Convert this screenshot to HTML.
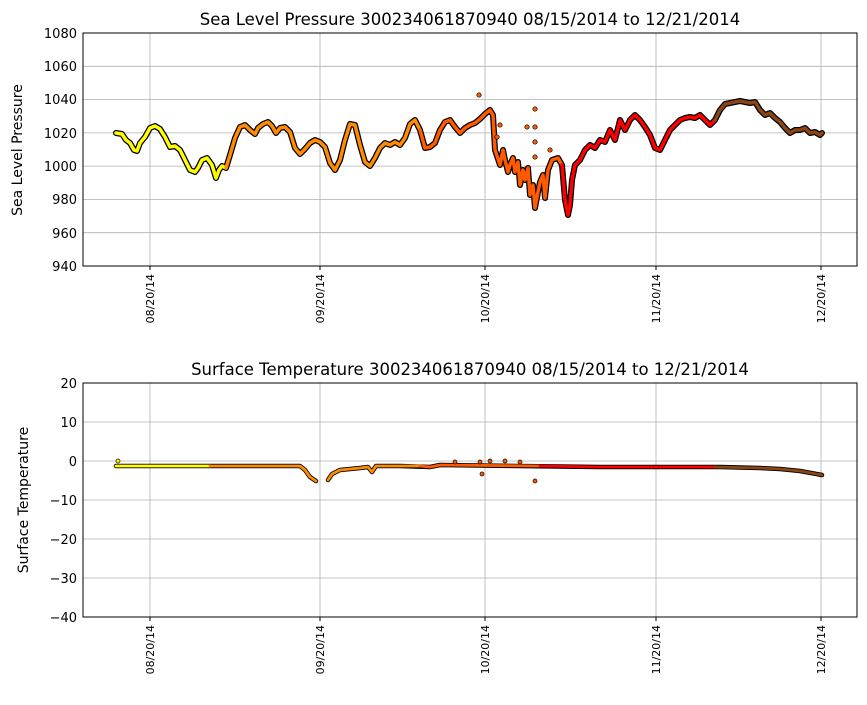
<!DOCTYPE html>
<html><head><meta charset="utf-8"><style>
body{margin:0;background:#fff;}
svg text{font-family:"DejaVu Sans","Liberation Sans",sans-serif;fill:#000;}
</style></head><body>
<svg width="867" height="700" xmlns="http://www.w3.org/2000/svg">
<rect width="867" height="700" fill="#fff"/>
<!-- TOP -->
<g stroke="#b0b0b0" stroke-width="0.8">
<line x1="150" y1="33" x2="150" y2="266"/><line x1="320" y1="33" x2="320" y2="266"/><line x1="485" y1="33" x2="485" y2="266"/><line x1="656" y1="33" x2="656" y2="266"/><line x1="821" y1="33" x2="821" y2="266"/>
<line x1="83" y1="66.3" x2="857" y2="66.3"/><line x1="83" y1="99.6" x2="857" y2="99.6"/><line x1="83" y1="132.9" x2="857" y2="132.9"/><line x1="83" y1="166.1" x2="857" y2="166.1"/><line x1="83" y1="199.4" x2="857" y2="199.4"/><line x1="83" y1="232.7" x2="857" y2="232.7"/>
</g>
<g fill="none" stroke-linejoin="round" stroke-linecap="round">
<polyline stroke="#000" stroke-width="6" points="116,133 122,134 126,140 130,143 134,150 137,151 140,143 145,137 150,128 155,126 160,129 165,137 170,147 175,146 180,150 185,160 190,170 195,172 198,168 202,160 207,158 212,165 216,178 219,170 222,166 226,168 230,155 235,138 240,127 245,125 250,130 255,134 258,128 263,124 268,122 272,126 276,133 280,128 285,127 290,132 295,148 300,154 305,149 310,143 315,140 320,142 325,147 330,163 335,170 340,160 345,140 350,124 355,125 360,145 365,162 370,166 375,158 380,148 385,143 390,145 395,142 400,145 405,138 410,124 415,120 420,130 425,148 430,147 435,143 440,130 445,122 450,120 455,127 460,133 465,128 470,125 475,123 480,119 485,114 490,110 493,115 495,150 500,165 503,150 505,160 508,172 510,165 513,158 515,172 518,162 520,185 523,170 525,180 528,168 530,195 533,185 535,208 538,192 540,182 543,175 545,198 548,170 552,160 558,158 562,165 565,200 568,215 570,205 572,180 575,165 580,160 585,150 590,145 595,148 600,140 605,142 610,130 615,140 620,120 625,130 630,120 635,115 640,120 645,127 650,135 655,148 660,150 665,140 670,130 675,125 680,120 685,118 690,117 695,118 700,115 705,120 710,125 715,120 720,110 725,104 730,103 735,102 740,101 745,102 750,103 755,102 760,110 765,115 770,113 775,118 780,122 785,128 790,133 795,130 800,130 805,128 810,133 815,132 820,135 822,133"/>
<polyline stroke="#ffff00" stroke-width="3.5" points="116,133 122,134 126,140 130,143 134,150 137,151 140,143 145,137 150,128 155,126 160,129 165,137 170,147 175,146 180,150 185,160 190,170 195,172 198,168 202,160 207,158 212,165 216,178 219,170 222,166 226,168"/>
<polyline stroke="#ff8c00" stroke-width="3.5" points="226,168 230,155 235,138 240,127 245,125 250,130 255,134 258,128 263,124 268,122 272,126 276,133 280,128 285,127 290,132 295,148 300,154 305,149 310,143 315,140 320,142 325,147 330,163 335,170 340,160 345,140 350,124 355,125 360,145 365,162 370,166 375,158 380,148 385,143 390,145 395,142 400,145 405,138 410,124 415,120 420,130"/>
<polyline stroke="#ff5a00" stroke-width="3.5" points="420,130 425,148 430,147 435,143 440,130 445,122 450,120 455,127 460,133 465,128 470,125 475,123 480,119 485,114 490,110 493,115 495,150 500,165 503,150 505,160 508,172 510,165 513,158 515,172 518,162 520,185 523,170 525,180 528,168 530,195 533,185 535,208 538,192 540,182 543,175 545,198 548,170 552,160 558,158 562,165"/>
<polyline stroke="#ff0000" stroke-width="3.5" points="562,165 565,200 568,215 570,205 572,180 575,165 580,160 585,150 590,145 595,148 600,140 605,142 610,130 615,140 620,120 625,130 630,120 635,115 640,120 645,127 650,135 655,148 660,150 665,140 670,130 675,125 680,120 685,118 690,117 695,118 700,115 705,120 710,125 715,120"/>
<polyline stroke="#8b4513" stroke-width="3.5" points="715,120 720,110 725,104 730,103 735,102 740,101 745,102 750,103 755,102 760,110 765,115 770,113 775,118 780,122 785,128 790,133 795,130 800,130 805,128 810,133 815,132 820,135 822,133"/>
</g>
<g fill="#ff5a00" stroke="#000" stroke-width="0.7">
<circle cx="479" cy="95" r="2.2"/><circle cx="535" cy="109" r="2.2"/><circle cx="535" cy="127" r="2.2"/><circle cx="535" cy="142" r="2.2"/><circle cx="535" cy="157" r="2.2"/><circle cx="500" cy="125" r="2.2"/><circle cx="497" cy="137" r="2.2"/><circle cx="527" cy="127" r="2.2"/><circle cx="550" cy="150" r="2.2"/>
</g>
<rect x="83" y="33" width="774" height="233" fill="none" stroke="#000" stroke-width="1"/>
<g font-size="13" text-anchor="end">
<text x="77" y="38">1080</text><text x="77" y="71">1060</text><text x="77" y="104">1040</text><text x="77" y="138">1020</text><text x="77" y="171">1000</text><text x="77" y="204">980</text><text x="77" y="238">960</text><text x="77" y="271">940</text>
</g>
<g stroke="#000"><line x1="150" y1="266" x2="150" y2="270"/><line x1="320" y1="266" x2="320" y2="270"/><line x1="485" y1="266" x2="485" y2="270"/><line x1="656" y1="266" x2="656" y2="270"/><line x1="821" y1="266" x2="821" y2="270"/></g>
<g font-size="11" text-anchor="end">
<text transform="translate(154,274) rotate(-90)">08/20/14</text><text transform="translate(324,274) rotate(-90)">09/20/14</text><text transform="translate(489,274) rotate(-90)">10/20/14</text><text transform="translate(660,274) rotate(-90)">11/20/14</text><text transform="translate(825,274) rotate(-90)">12/20/14</text>
</g>
<text x="470" y="25" font-size="16.5" text-anchor="middle">Sea Level Pressure 300234061870940  08/15/2014 to 12/21/2014</text>
<text transform="translate(22,150) rotate(-90)" font-size="14" text-anchor="middle">Sea Level Pressure</text>

<!-- BOTTOM -->
<g stroke="#b0b0b0" stroke-width="0.8">
<line x1="150" y1="383" x2="150" y2="617"/><line x1="320" y1="383" x2="320" y2="617"/><line x1="485" y1="383" x2="485" y2="617"/><line x1="656" y1="383" x2="656" y2="617"/><line x1="821" y1="383" x2="821" y2="617"/>
<line x1="83" y1="422" x2="857" y2="422"/><line x1="83" y1="461" x2="857" y2="461"/><line x1="83" y1="500" x2="857" y2="500"/><line x1="83" y1="539" x2="857" y2="539"/><line x1="83" y1="578" x2="857" y2="578"/>
</g>
<g fill="none" stroke-linejoin="round" stroke-linecap="round">
<polyline stroke="#000" stroke-width="4.5" points="116,466 300,466 305,470 310,477 316,481"/>
<polyline stroke="#000" stroke-width="4.5" points="328,480 332,474 340,470 350,469 360,468 368,467 372,472 376,466 400,466 430,467 440,465 600,467 700,467 720,467 760,468 780,469 800,471 822,475"/>
<polyline stroke="#ffff00" stroke-width="2.8" points="116,466 210,466"/>
<polyline stroke="#ff8c00" stroke-width="2.8" points="210,466 300,466 305,470 310,477 316,481"/>
<polyline stroke="#ff8c00" stroke-width="2.8" points="328,480 332,474 340,470 350,469 360,468 368,467 372,472 376,466 400,466 420,466"/>
<polyline stroke="#ff5a00" stroke-width="2.8" points="420,466 430,467 440,465 540,466"/>
<polyline stroke="#ff0000" stroke-width="2.8" points="540,466 600,467 700,467 715,467"/>
<polyline stroke="#8b4513" stroke-width="2.8" points="715,467 760,468 780,469 800,471 822,475"/>
</g>
<g stroke="#000" stroke-width="0.7">
<circle cx="118" cy="461" r="2" fill="#ffff00"/><circle cx="482" cy="474" r="2" fill="#ff5a00"/><circle cx="535" cy="481" r="2" fill="#ff5a00"/><circle cx="480" cy="462" r="2" fill="#ff5a00"/><circle cx="505" cy="461" r="2" fill="#ff5a00"/><circle cx="520" cy="462" r="2" fill="#ff5a00"/><circle cx="455" cy="462" r="2" fill="#ff5a00"/><circle cx="490" cy="461" r="2" fill="#ff5a00"/>
</g>
<rect x="83" y="383" width="774" height="234" fill="none" stroke="#000" stroke-width="1"/>
<g font-size="13" text-anchor="end">
<text x="77" y="388">20</text><text x="77" y="427">10</text><text x="77" y="466">0</text><text x="77" y="505">−10</text><text x="77" y="544">−20</text><text x="77" y="583">−30</text><text x="77" y="622">−40</text>
</g>
<g stroke="#000"><line x1="150" y1="617" x2="150" y2="621"/><line x1="320" y1="617" x2="320" y2="621"/><line x1="485" y1="617" x2="485" y2="621"/><line x1="656" y1="617" x2="656" y2="621"/><line x1="821" y1="617" x2="821" y2="621"/></g>
<g font-size="11" text-anchor="end">
<text transform="translate(154,625) rotate(-90)">08/20/14</text><text transform="translate(324,625) rotate(-90)">09/20/14</text><text transform="translate(489,625) rotate(-90)">10/20/14</text><text transform="translate(660,625) rotate(-90)">11/20/14</text><text transform="translate(825,625) rotate(-90)">12/20/14</text>
</g>
<text x="470" y="375" font-size="16.5" text-anchor="middle">Surface Temperature 300234061870940  08/15/2014 to 12/21/2014</text>
<text transform="translate(28,500) rotate(-90)" font-size="14" text-anchor="middle">Surface Temperature</text>
</svg>
</body></html>
